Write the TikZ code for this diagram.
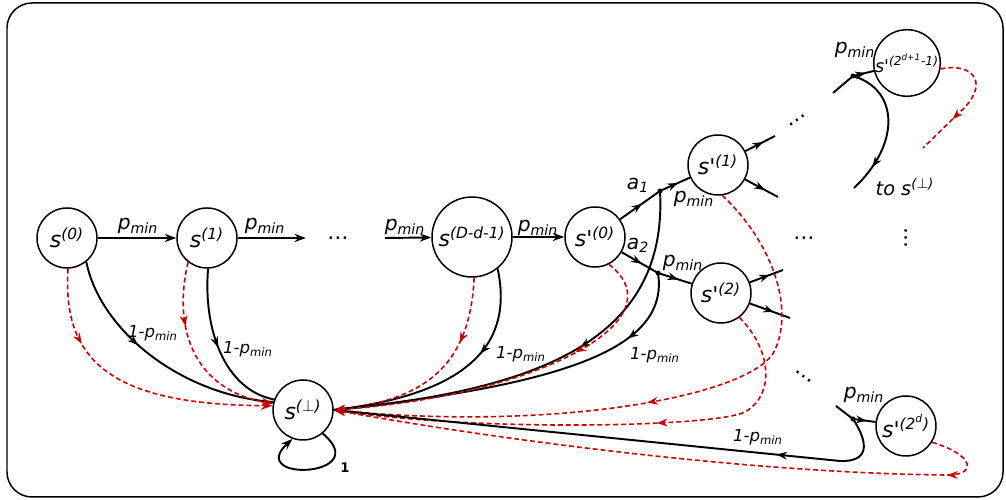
\documentclass[tikz,border=0pt]{standalone}
\usepackage{fontspec}
\setmainfont{DejaVu Sans}
\usepackage{pgf,tikz}
\usetikzlibrary{arrows.meta}
\usetikzlibrary{decorations.markings}

\definecolor{dashred}{RGB}{204,0,0}
\newcommand{\state}[1]{s\textsuperscript{(#1)}}
\newcommand{\pstate}[1]{s\textquotesingle\textsuperscript{(#1)}}
\newcommand{\pmin}{p\textsubscript{min}}

\begin{document}
\begin{tikzpicture}[
  >={Stealth[length=6.5pt,width=4.6pt]},
  stnode/.style={circle,draw,line width=0.85pt,minimum size=1.2cm,inner sep=0pt,font=\fontsize{12.5}{14}\selectfont\itshape},
  lbl/.style={inner sep=0pt,font=\fontsize{11.5}{13}\selectfont\itshape},
  backlbl/.style={inner sep=0pt,font=\fontsize{9.4}{11}\selectfont\itshape},
  dotnode/.style={inner sep=0pt,font=\fontsize{12}{14}\selectfont},
  edge/.style={line width=1.1pt},
  redge/.style={draw=dashred,dash pattern=on 2.8pt off 1.7pt,line width=0.9pt},
  midarr/.style={postaction={decorate,decoration={markings,mark=at position #1 with {\arrow{Stealth[length=6pt,width=4.4pt]}}}}}
]
\useasboundingbox (0,0) rectangle (20.12,10);
\draw[line width=0.85pt,rounded corners=0.5cm] (0.14,0.06) rectangle (20.06,9.94);

% the chain
\node[stnode] (s0) at (1.34,5.24) {\state{0}};
\node[stnode] (s1) at (4.14,5.24) {\state{1}};
\node[stnode] (sbot) at (6.06,1.8) {\state{$\bot$}};
\node[stnode,minimum size=1.6cm] (sDd) at (9.44,5.26) {\state{D-d-1}};
\node[stnode] (sp0) at (11.9,5.26) {\pstate{0}};
\node[dotnode] (dots1) at (6.76,5.24) {\dots};
\coordinate (outS1) at (6.12,5.24);
\coordinate (inD) at (7.7,5.24);

\draw[edge,->] (s0) -- (s1);
\draw[edge,->] (s1) -- (outS1);
\draw[edge,->] (inD) -- (sDd);
\draw[edge,->] (sDd) -- (sp0);
\node[lbl] (l01) at (2.76,5.48) {\pmin};
\node[lbl] (l12) at (5.3,5.48) {\pmin};
\node[lbl] (l2D) at (8.1,5.46) {\pmin};
\node[lbl] (lD0) at (10.76,5.44) {\pmin};

% self loop
\draw[edge,->] (sbot.-50) .. controls (7.5,0.45) and (4.9,0.35) .. (sbot.-110);
\node[inner sep=0pt,font=\fontsize{7.5}{9}\selectfont\bfseries] (one) at (6.9,0.64) {1};

% falling back
\draw[edge,midarr=0.4] (s0.-51) .. controls (2.0,3.4) and (3.6,2.1) .. (sbot.165);
\draw[redge,->,midarr=0.27] (s0.-88) .. controls (1.24,2.8) and (2.2,1.9) .. (sbot.172);
\draw[edge,midarr=0.5] (s1.-88) .. controls (4.06,3.4) and (4.5,2.2) .. (sbot.160);
\draw[redge,->,midarr=0.34] (s1.-128) .. controls (3.44,3.4) and (3.9,2.2) .. (sbot.168);
\node[backlbl] (lb0) at (3.06,3.34) {1-\pmin};
\node[backlbl] (lb1) at (4.96,3.02) {1-\pmin};

\draw[edge,midarr=0.36] (sDd.-51) .. controls (10.3,3.0) and (9.2,2.1) .. (sbot.east);
\draw[redge,->,midarr=0.31] (sDd.-87) .. controls (9.4,2.6) and (8.4,2.0) .. (sbot.east);
\node[backlbl] (lbD) at (10.42,2.92) {1-\pmin};

% the two actions
\coordinate (dotA) at (13.2,6.18);
\coordinate (dotB) at (13.16,4.54);
\node[stnode] (sp1) at (14.36,6.7) {\pstate{1}};
\node[stnode] (sp2) at (14.42,4.14) {\pstate{2}};
\draw[edge,midarr=0.55] (sp0) -- (dotA);
\draw[edge,midarr=0.6] (dotA) -- (sp1);
\draw[edge,midarr=0.55] (sp0) -- (dotB);
\draw[edge,midarr=0.6] (dotB) -- (sp2);
\fill (dotA) circle (0.05);
\fill (dotB) circle (0.05);
\node[lbl] (la1) at (12.76,6.3) {a\textsubscript{1}};
\node[lbl] (la2) at (12.76,5.1) {a\textsubscript{2}};
\node[lbl] (lA) at (13.88,6.02) {\pmin};
\node[lbl] (lB) at (13.66,4.74) {\pmin};

\draw[edge,midarr=0.42] (dotA) .. controls (13.36,3.2) and (10.8,2.2) .. (sbot.east);
\draw[edge,midarr=0.2] (dotB) .. controls (13.4,3.0) and (11.2,2.3) .. (sbot.east);
\draw[redge,->,midarr=0.32] (sp0.-63) .. controls (13.6,3.6) and (10.8,2.1) .. (sbot.east);
\node[backlbl] (lbB) at (13.1,2.9) {1-\pmin};

% further out
\coordinate (o11) at (15.5,7.28);
\coordinate (o12) at (15.56,6.06);
\coordinate (o21) at (15.66,4.6);
\coordinate (o22) at (15.8,3.64);
\draw[edge,midarr=0.6] (sp1) -- (o11);
\draw[edge,midarr=0.6] (sp1) -- (o12);
\draw[edge,midarr=0.6] (sp2) -- (o21);
\draw[edge,midarr=0.6] (sp2) -- (o22);
\draw[redge,->,midarr=0.5] (sp1.-82) .. controls (15.4,5.2) and (15.9,3.9) .. (15.5,3.0)
  .. controls (15.1,2.1) and (11.2,1.36) .. (sbot.east);
\draw[redge,->,midarr=0.38] (sp2.-53) .. controls (15.44,3.0) and (15.5,2.1) .. (14.9,1.76)
  .. controls (14.3,1.46) and (9.6,1.36) .. (sbot.east);

\node[dotnode,rotate=35] (dots2) at (15.94,7.6) {\dots};
\node[dotnode] (dots3) at (16.08,5.24) {\dots};
\node[dotnode,rotate=90] (dots4) at (18.12,5.24) {\dots};
\node[dotnode,rotate=-36] (dots5) at (16.08,2.46) {\dots};

% last states
\node[stnode,font=\fontsize{10}{12}\selectfont\itshape] (spT) at (18.14,8.74) {\pstate{2\textsuperscript{d+1}-1}};
\node[stnode] (spD) at (18.12,1.48) {\pstate{2\textsuperscript{d}}};
\coordinate (inT) at (16.66,8.14);
\coordinate (dotT) at (17.06,8.48);
\coordinate (endT) at (17.08,6.24);
\coordinate (redT) at (18.46,7.04);
\coordinate (inDd) at (16.72,1.88);
\coordinate (dotD) at (17.06,1.62);

\draw[edge] (inT) -- (dotT);
\draw[edge,midarr=0.6] (dotT) -- (spT);
\fill (dotT) circle (0.05);
\draw[edge,midarr=0.8] (dotT) .. controls (18.0,8.2) and (18.0,7.1) .. (endT);
\draw[redge,midarr=0.68] (spT.-10) .. controls (19.5,8.76) and (19.8,8.3) .. (19.2,7.76) -- (redT);
\node[lbl] (lT) at (17.1,9.0) {\pmin};
\node[lbl,font=\fontsize{11}{13}\selectfont\itshape] (tobot) at (18.1,6.26) {to \state{$\bot$}};

\draw[edge] (inDd) -- (dotD);
\draw[edge,midarr=0.6] (dotD) -- (spD);
\fill (dotD) circle (0.05);
\draw[edge,midarr=0.22] (dotD) .. controls (17.4,1.1) and (17.36,0.76) .. (16.8,0.78) -- (sbot.east);
\draw[redge,->,midarr=0.1] (spD.-32) .. controls (19.5,0.9) and (19.56,0.48) .. (18.9,0.5)
  .. controls (15.0,0.54) and (10.0,1.2) .. (sbot.east);
\node[lbl] (lD) at (17.28,2.1) {\pmin};
\node[backlbl] (lbDd) at (15.16,1.26) {1-\pmin};

\end{tikzpicture}
\end{document}
